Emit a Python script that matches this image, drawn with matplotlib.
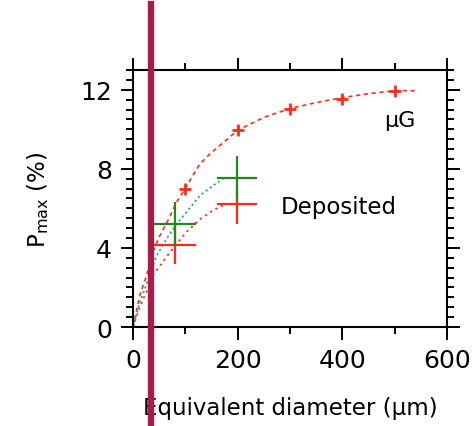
import numpy as np
import matplotlib.pyplot as plt
from matplotlib.ticker import MultipleLocator

# microgravity curve (dotted line) and its markers
ug_x = [0, 13, 26, 38, 51, 70, 83, 102, 112, 128, 147, 200, 250, 300, 350, 400, 450, 500, 545]
ug_y = [0, 1.6, 2.6, 3.8, 4.6, 5.55, 6.3, 7.1, 7.55, 8.25, 8.75, 9.95, 10.6, 11.05, 11.35, 11.6, 11.8, 11.95, 11.95]
ug_mx = [100, 200, 300, 400, 500]
ug_my = [7.0, 9.95, 11.05, 11.55, 11.95]

# deposited curves
dg_x = [0, 13, 29, 45, 64, 83, 102, 128, 153, 172]
dg_y = [0, 1.25, 2.4, 3.6, 4.45, 5.2, 5.8, 6.65, 7.15, 7.5]
dr_x = [0, 13, 26, 38, 57, 80, 102, 128, 153, 172]
dr_y = [0, 1.0, 1.8, 2.6, 3.3, 4.1, 4.8, 5.45, 5.9, 6.15]

# deposited error crosses
cg_x = [80, 199]
cg_y = [5.2, 7.55]
cg_xerr = [40, 38]
cg_yerr = [1.1, 1.1]
cr_x = [80, 199]
cr_y = [4.15, 6.2]
cr_xerr = [40, 38]
cr_yerr = [0.95, 1.0]

bar_x = 34

red = '#ff2a18'
green = '#1e8a1e'
teal = '#22b07a'
maroon = '#ad1a48'

fig = plt.figure(figsize=(4.76, 4.27), dpi=100)
ax = fig.add_axes([0.2794, 0.2318, 0.6597, 0.602])

ax.plot(ug_x, ug_y, color=red, lw=1.2, ls=(0, (2.5, 2.2)))
ax.plot(ug_mx, ug_my, ls='none', marker='+', ms=8, mew=2, color=red)
ax.plot(dg_x, dg_y, color=teal, lw=1.3, ls=(0, (1.2, 1.6)))
ax.plot(dr_x, dr_y, color=red, lw=1.3, ls=(0, (1.2, 2.2)))

ax.errorbar(cr_x, cr_y, xerr=cr_xerr, yerr=cr_yerr, fmt='none', ecolor=red, elinewidth=1.6, capsize=0, zorder=3)
ax.errorbar(cg_x, cg_y, xerr=cg_xerr, yerr=cg_yerr, fmt='none', ecolor=green, elinewidth=1.6, capsize=0, zorder=4)

ax.text(509, 10.45, '\u03bcG', fontsize=16, ha='center', va='center')
ax.text(283, 6.1, 'Deposited', fontsize=16.5, ha='left', va='center')

ax.set_xlim(0, 600)
ax.set_ylim(0, 13)
ax.xaxis.set_major_locator(MultipleLocator(200))
ax.xaxis.set_minor_locator(MultipleLocator(100))
ax.yaxis.set_major_locator(MultipleLocator(4))
ax.yaxis.set_minor_locator(MultipleLocator(0.5))
ax.tick_params(which='both', direction='out', top=True, right=True, width=1.4, labelsize=18)
ax.tick_params(which='major', length=9, pad=6)
ax.tick_params(which='minor', length=5)
for s in ax.spines.values():
    s.set_linewidth(1.5)

ax.set_xlabel('Equivalent diameter (\u03bcm)', fontsize=16.5)
ax.set_ylabel(r'P$_{\mathrm{max}}$ (%)', fontsize=16.5)
ax.xaxis.set_label_coords(0.5, -0.27)
ax.yaxis.set_label_coords(-0.26, 0.5)

ax.axvline(bar_x, ymin=-0.4, ymax=1.255, color=maroon, lw=4.5, clip_on=False, zorder=10)

fig.savefig('out.png', dpi=100)
